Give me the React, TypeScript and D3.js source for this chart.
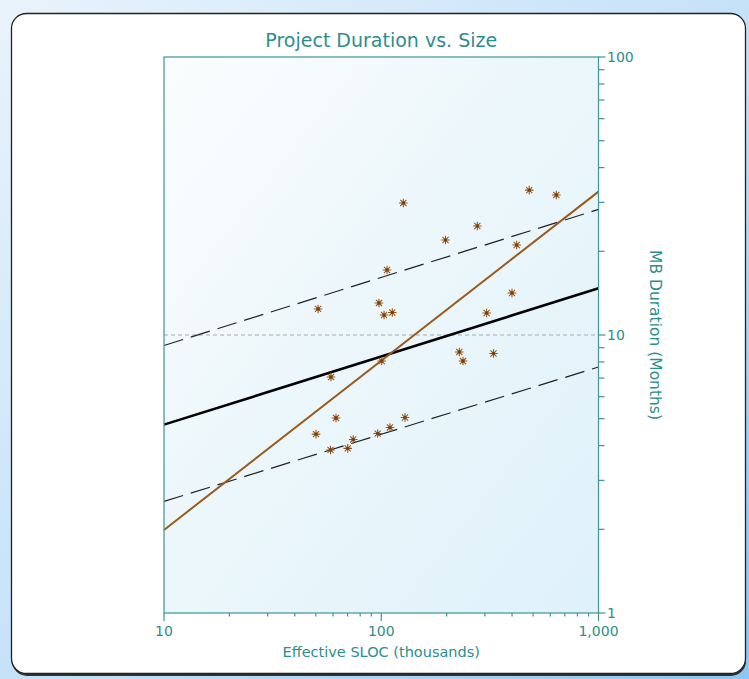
import React from "react";
import * as d3 from "d3";

// Data
const sizeK = [51.2, 106.3, 126.4, 97.6, 103, 112.4, 58.7, 61.9, 50.1, 58.4, 70.1, 74.3, 96.3, 109.7, 128.6, 100.5, 197.6, 276.8, 480, 639.5, 420, 399.7, 305.6, 228.7, 237.8, 328.6];
const durationM = [12.41, 17.13, 29.85, 13.04, 11.8, 12.05, 7.06, 5.03, 4.4, 3.86, 3.91, 4.21, 4.42, 4.65, 5.05, 8.06, 21.96, 24.67, 33.2, 31.9, 21.07, 14.16, 12.0, 8.69, 8.06, 8.58];

const lineX = [10, 1000];
const trendMean = [4.76, 14.72];
const trendUpper = [9.17, 28.3];
const trendLower = [2.52, 7.67];
const fitLine = [1.99, 32.8];

const xTicks = [10, 100, 1000];
const xTickLabels = ["10", "100", "1,000"];
const yTicks = [1, 10, 100];
const yTickLabels = ["1", "10", "100"];
const refLine = 10;

const TEAL = "#2b8e8e";
const AXIS = "#3f9494";
const BROWN = "#9a5a1c";
const FONT = "'DejaVu Sans', Verdana, sans-serif";

export default function App() {
  const W = 749, H = 679;
  const x = d3.scaleLog().domain([10, 1000]).range([164, 598.5]);
  const y = d3.scaleLog().domain([1, 100]).range([613, 57]);
  const [x0, x1] = x.range();
  const [yb, yt] = y.range();

  const line = d3.line<[number, number]>().x(d => x(d[0])).y(d => y(d[1]));
  const mk = (vals: number[]) => line(lineX.map((v, i) => [v, vals[i]] as [number, number])) || "";

  const minorX: number[] = [];
  for (const dec of [10, 100]) for (let k = 2; k <= 9; k++) minorX.push(dec * k);
  const minorY: number[] = [];
  for (const dec of [1, 10]) for (let k = 2; k <= 9; k++) minorY.push(dec * k);

  const star = (cx: number, cy: number, r: number) => {
    const p = d3.path();
    for (let a = 0; a < 4; a++) {
      const ang = (a * Math.PI) / 4;
      p.moveTo(cx - r * Math.cos(ang), cy - r * Math.sin(ang));
      p.lineTo(cx + r * Math.cos(ang), cy + r * Math.sin(ang));
    }
    return p.toString();
  };

  return (
    <svg width={W} height={H} style={{ position: "absolute", left: 0, top: 0 }}>
      <defs>
        <linearGradient id="bg" x1="0" y1="0" x2="1" y2="1">
          <stop offset="0%" stopColor="#e9f3fb" />
          <stop offset="55%" stopColor="#c2e0f8" />
          <stop offset="100%" stopColor="#8cc6f2" />
        </linearGradient>
        <linearGradient id="plotbg" x1="0" y1="0" x2="1" y2="1">
          <stop offset="0%" stopColor="#fbfdfe" />
          <stop offset="45%" stopColor="#ecf7fb" />
          <stop offset="100%" stopColor="#dff1fa" />
        </linearGradient>
      </defs>
      <rect x={0} y={0} width={W} height={H} fill="url(#bg)" />
      <rect x={12} y={15} width={734} height={661} rx={15} fill="#333" />
      <rect x={11.5} y={13.5} width={734} height={660} rx={15} fill="#fff" stroke="#222" strokeWidth={1.3} />

      {/* plot area */}
      <rect x={x0} y={yt} width={x1 - x0} height={yb - yt} fill="url(#plotbg)" />
      <line x1={x0} x2={x1} y1={y(refLine)} y2={y(refLine)} stroke="#aaa" strokeWidth={1} strokeDasharray="4,3" />

      {/* lines */}
      <path d={mk(trendUpper)} fill="none" stroke="#222" strokeWidth={1.2} strokeDasharray="20,8" />
      <path d={mk(trendLower)} fill="none" stroke="#222" strokeWidth={1.2} strokeDasharray="20,8" />
      <path d={mk(trendMean)} fill="none" stroke="#000" strokeWidth={2.6} />
      <path d={mk(fitLine)} fill="none" stroke={BROWN} strokeWidth={2} />

      {/* points */}
      {sizeK.map((s, i) => (
        <g key={i}>
          <path d={star(x(s), y(durationM[i]), 4.3)} stroke={BROWN} strokeWidth={1.1} fill="none" />
          <circle cx={x(s)} cy={y(durationM[i])} r={1.7} fill="#7a3f0a" />
        </g>
      ))}

      {/* plot border */}
      <rect x={x0} y={yt} width={x1 - x0} height={yb - yt} fill="none" stroke={AXIS} strokeWidth={1.2} />

      {/* x axis ticks */}
      {xTicks.map((t, i) => (
        <g key={"xt" + i}>
          <line x1={x(t)} x2={x(t)} y1={yb} y2={yb + 8} stroke={AXIS} strokeWidth={1.2} />
          <text x={x(t)} y={yb + 23} textAnchor="middle" fontFamily={FONT} fontSize={14} fill={TEAL}>{xTickLabels[i]}</text>
        </g>
      ))}
      {minorX.map((t, i) => (
        <line key={"xm" + i} x1={x(t)} x2={x(t)} y1={yb} y2={yb + 3.5} stroke={AXIS} strokeWidth={1.2} />
      ))}

      {/* y axis (right) ticks */}
      {yTicks.map((t, i) => (
        <g key={"yt" + i}>
          <line x1={x1} x2={x1 + 7} y1={y(t)} y2={y(t)} stroke={AXIS} strokeWidth={1.2} />
          <text x={x1 + 8.5} y={y(t) + 5.2} textAnchor="start" fontFamily={FONT} fontSize={14} fill={TEAL}>{yTickLabels[i]}</text>
        </g>
      ))}
      {minorY.map((t, i) => (
        <line key={"ym" + i} x1={x1} x2={x1 + 6} y1={y(t)} y2={y(t)} stroke={AXIS} strokeWidth={1.2} />
      ))}

      {/* titles */}
      <text x={(x0 + x1) / 2} y={47} textAnchor="middle" fontFamily={FONT} fontSize={19} fill={TEAL}>Project Duration vs. Size</text>
      <text x={(x0 + x1) / 2} y={657} textAnchor="middle" fontFamily={FONT} fontSize={14.5} fill={TEAL}>Effective SLOC (thousands)</text>
      <text transform={`translate(650, ${(yt + yb) / 2}) rotate(90)`} textAnchor="middle" fontFamily={FONT} fontSize={15.5} fill={TEAL}>MB Duration (Months)</text>
    </svg>
  );
}
